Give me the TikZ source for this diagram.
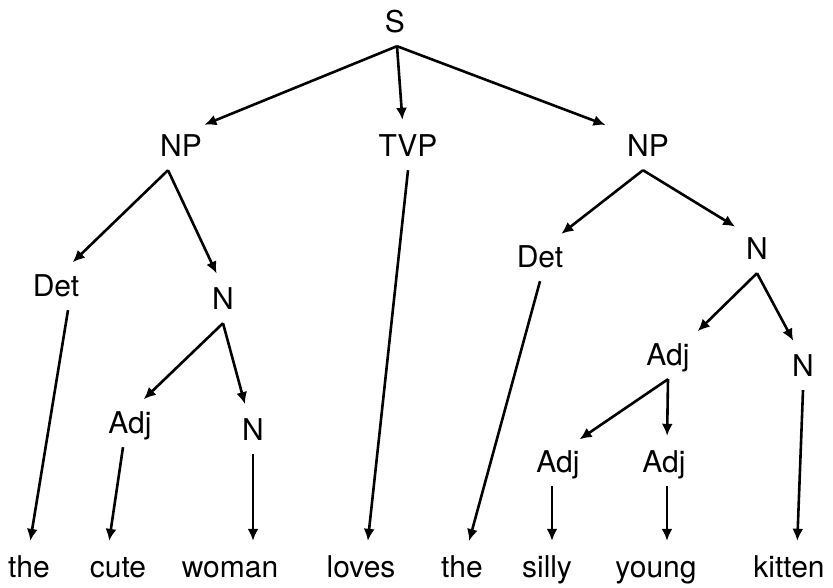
\documentclass[tikz,border=0pt]{standalone}
\usepackage{fontspec}
\setmainfont{TeX Gyre Heros}
\usetikzlibrary{arrows.meta,positioning}
\tikzset{cat/.style={anchor=base,inner xsep=0pt,inner ysep=8pt,text height=20pt,text depth=6pt,font=\fontsize{30}{32}\selectfont},
  branch/.style={-{Latex[length=12pt,width=11pt]},line width=2.6pt,shorten >=8pt}}

\begin{document}
\begin{tikzpicture}[x=1pt,y=-1pt]
            \useasboundingbox (0,0) rectangle (833,587);
            % categories
            \node [cat] (s) at (395,32) {S};
            \node [cat] (npl) at (181,156) {NP};
            \node [cat] (tvp) at (408,156) {TVP};
            \node [cat] (npr) at (648,156) {NP};
            \node [cat] (detl) at (56,296) {Det};
            \node [cat] (nl) at (223,309) {N};
            \node [cat] (adjl) at (130,433) {Adj};
            \node [cat] (nll) at (253,440) {N};
            \node [cat] (detr) at (540,267) {Det};
            \node [cat] (nr) at (757,259) {N};
            \node [cat] (adjm) at (668,365) {Adj};
            \node [cat] (nrr) at (803,376) {N};
            \node [cat] (adja) at (558,472) {Adj};
            \node [cat] (adjb) at (664,472) {Adj};
            % words
            \node [cat] (thea) at (29,577) {the};
            \node [cat] (cute) at (118,577) {cute};
            \node [cat] (woman) at (230,577) {woman};
            \node [cat] (loves) at (361,577) {loves};
            \node [cat] (theb) at (462,577) {the};
            \node [cat] (silly) at (547,577) {silly};
            \node [cat] (young) at (656,577) {young};
            \node [cat] (kitten) at (789,577) {kitten};
            % branches
            \draw [branch] ([xshift=2pt]s.south) -- ([xshift=16pt]npl.north);
            \draw [branch] ([xshift=2pt]s.south) -- ([xshift=-5pt]tvp.north);
            \draw [branch] ([xshift=2pt]s.south) -- ([xshift=-35pt]npr.north);
            \draw [branch] ([xshift=-13pt]npl.south) -- ([xshift=11pt]detl.north);
            \draw [branch] ([xshift=-13pt]npl.south) -- ([xshift=-3pt]nl.north);
            \draw [branch] (tvp.south) -- ([xshift=6pt]loves.north);
            \draw [branch] ([xshift=-5pt]npr.south) -- ([xshift=15pt]detr.north);
            \draw [branch] ([xshift=-5pt]npr.south) -- ([xshift=-15pt]nr.north);
            \draw [branch] ([xshift=12pt]detl.south) -- (thea.north);
            \draw [branch] (nl.south) -- ([xshift=8pt]adjl.north);
            \draw [branch] (nl.south) -- ([xshift=-6pt]nll.north);
            \draw [branch] ([xshift=-7pt]adjl.south) -- ([xshift=-10pt]cute.north);
            \draw [branch] (nll.south) -- ([xshift=23pt]woman.north);
            \draw [branch] (detr.south) -- ([xshift=5pt]theb.north);
            \draw [branch] (nr.south) -- ([xshift=24pt]adjm.north);
            \draw [branch] (nr.south) -- ([xshift=-6pt]nrr.north);
            \draw [branch] (adjm.south) -- ([xshift=15pt]adja.north);
            \draw [branch] (adjm.south) -- ([xshift=3pt]adjb.north);
            \draw [branch] (nrr.south) -- ([xshift=8pt]kitten.north);
            \draw [branch] ([xshift=-6pt]adja.south) -- ([xshift=5pt]silly.north);
            \draw [branch] ([xshift=3pt]adjb.south) -- ([xshift=11pt]young.north);
        \end{tikzpicture}
\end{document}
